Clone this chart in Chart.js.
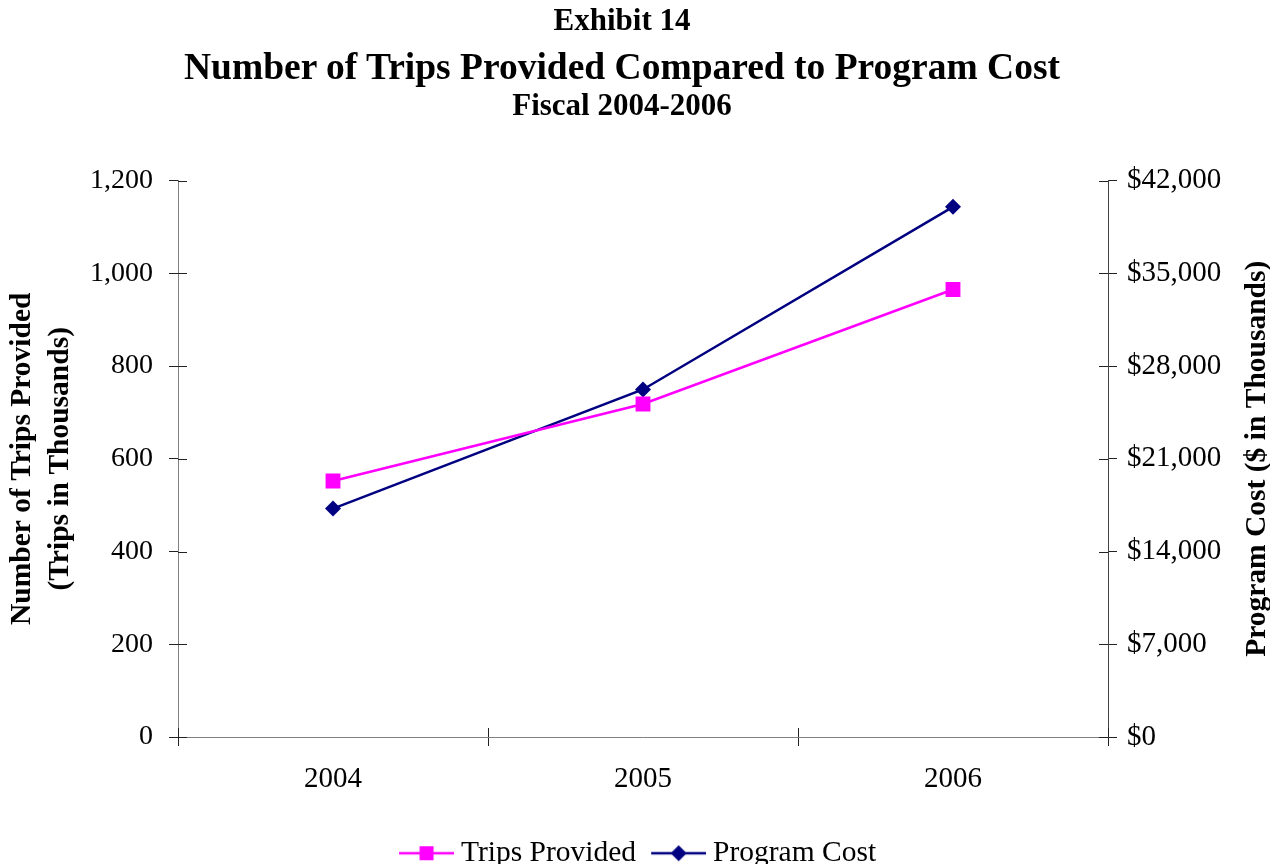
<!DOCTYPE html>
<html>
<head>
<meta charset="utf-8">
<script src="https://cdn.jsdelivr.net/npm/chart.js@4/dist/chart.umd.min.js"></script>
<style>
  html, body { margin: 0; padding: 0; background: #fff; }
  #wrap { position: relative; width: 1270px; height: 864px; overflow: hidden; }
  #chart { position: absolute; left: 0; top: 0; }
  .ttl { position: absolute; left: 0; width: 1244px; text-align: center;
         font-family: "Liberation Serif", "Times New Roman", serif; font-weight: bold; color: #000; white-space: nowrap; }
  #t1 { top: 3px; font-size: 31px; line-height: 34px; }
  #t2 { top: 46px; font-size: 37.5px; line-height: 42px; }
  #t3 { top: 88px; font-size: 31px; line-height: 34px; }
</style>
</head>
<body>
<div id="wrap">
  <canvas id="chart" width="1270" height="864"></canvas>
  <div class="ttl" id="t1">Exhibit 14</div>
  <div class="ttl" id="t2">Number of Trips Provided Compared to Program Cost</div>
  <div class="ttl" id="t3">Fiscal 2004-2006</div>
</div>
<script>
// Fiscal years on the category axis
const years = ['2004', '2005', '2006'];
// Trips provided, in thousands
const tripsProvided = [552, 718, 965];
// Program cost, in thousands of dollars
const programCost = [17240, 26230, 40010];
// Axis ranges / steps
const tripsAxis = { min: 0, max: 1200, step: 200 };
const costAxis = { min: 0, max: 42000, step: 7000 };
const costTitle = 'Program Cost ($ in Thousands)';

const SERIF = '"Liberation Serif", "Times New Roman", serif';
const MAGENTA = '#FF00FF';
const NAVY = '#000080';
const TICK_FONT = { family: SERIF, size: 29 };
const TITLE_SIZE = 29.5;

// Legend swatch: a short line with the series marker in the middle.
// The image is wider than the line so that the line sits close to the label.
function legendSwatch(color, shape) {
  const c = document.createElement('canvas');
  c.width = 68; c.height = 18;
  const g = c.getContext('2d');
  const x0 = 13, x1 = 68, mid = (x0 + x1) / 2;
  g.strokeStyle = color; g.lineWidth = 2.5;
  g.beginPath(); g.moveTo(x0, 9); g.lineTo(x1, 9); g.stroke();
  g.fillStyle = color;
  if (shape === 'square') {
    g.fillRect(mid - 7, 9 - 7, 14, 14);
  } else {
    g.beginPath(); g.moveTo(mid, 1); g.lineTo(mid + 8, 9); g.lineTo(mid, 17); g.lineTo(mid - 8, 9); g.closePath(); g.fill();
  }
  return c;
}
const swatches = [legendSwatch(MAGENTA, 'square'), legendSwatch(NAVY, 'diamond')];

// Tick marks that cross the axis lines (inner half)
const innerTicks = {
  id: 'innerTicks',
  afterDraw(chart) {
    const { ctx, chartArea, scales } = chart;
    const len = 9;
    ctx.save();
    ctx.lineWidth = 1;
    ctx.strokeStyle = '#222';
    ctx.beginPath();
    const yl = scales.y;
    yl.ticks.forEach((t, i) => {
      const p = Math.round(yl.getPixelForTick(i)) + 0.5;
      ctx.moveTo(chartArea.left, p); ctx.lineTo(chartArea.left + len, p);
    });
    const yr = scales.y1;
    yr.ticks.forEach((t, i) => {
      const p = Math.round(yr.getPixelForTick(i)) + 0.5;
      ctx.moveTo(chartArea.right, p); ctx.lineTo(chartArea.right - len, p);
    });
    const xs = scales.x;
    const n = xs.ticks.length;
    const bounds = [chartArea.left];
    for (let i = 0; i < n - 1; i++) bounds.push((xs.getPixelForTick(i) + xs.getPixelForTick(i + 1)) / 2);
    bounds.push(chartArea.right);
    bounds.forEach(b => {
      const p = Math.round(b) + 0.5;
      ctx.moveTo(p, chartArea.bottom); ctx.lineTo(p, chartArea.bottom - len);
    });
    ctx.stroke();
    ctx.restore();
  }
};

// Right axis title, reading bottom-to-top like the left one
const rightAxisTitle = {
  id: 'rightAxisTitle',
  afterDraw(chart) {
    const { ctx, chartArea } = chart;
    ctx.save();
    ctx.translate(1257, (chartArea.top + chartArea.bottom) / 2);
    ctx.rotate(-Math.PI / 2);
    ctx.font = 'bold ' + TITLE_SIZE + 'px ' + SERIF;
    ctx.fillStyle = '#000';
    ctx.textAlign = 'center';
    ctx.textBaseline = 'middle';
    ctx.fillText(costTitle, 0, 0);
    ctx.restore();
  }
};

new Chart(document.getElementById('chart'), {
  type: 'line',
  data: {
    labels: years,
    datasets: [
      {
        label: 'Trips Provided',
        data: tripsProvided,
        yAxisID: 'y',
        borderColor: MAGENTA,
        backgroundColor: MAGENTA,
        borderWidth: 2.5,
        pointStyle: 'rect',
        pointRadius: 10.5,
        pointHoverRadius: 10.5,
        pointBorderWidth: 0,
        tension: 0
      },
      {
        label: 'Program Cost',
        data: programCost,
        yAxisID: 'y1',
        borderColor: NAVY,
        backgroundColor: NAVY,
        borderWidth: 2.5,
        pointStyle: 'rectRot',
        pointRadius: 8,
        pointHoverRadius: 8,
        pointBorderWidth: 0,
        tension: 0
      }
    ]
  },
  options: {
    responsive: false,
    animation: false,
    events: [],
    layout: { padding: { top: 180.5, left: 0, right: 0, bottom: -14 } },
    plugins: {
      title: { display: false },
      tooltip: { enabled: false },
      legend: {
        position: 'bottom',
        labels: {
          font: { family: SERIF, size: TITLE_SIZE },
          color: '#000',
          usePointStyle: true,
          pointStyleWidth: 52.25,
          boxHeight: 18,
          padding: 10,
          generateLabels(chart) {
            const items = Chart.defaults.plugins.legend.labels.generateLabels(chart);
            items.forEach((it, i) => { it.pointStyle = swatches[i]; });
            return items;
          }
        }
      }
    },
    scales: {
      x: {
        type: 'category',
        offset: true,
        grid: { offset: true, drawOnChartArea: false, drawTicks: true, tickLength: 9, color: '#222' },
        border: { display: true, color: '#808080', width: 1 },
        ticks: { font: TICK_FONT, color: '#000', padding: 16 },
        afterFit(s) { s.height = 91.5; }
      },
      y: {
        position: 'left',
        min: tripsAxis.min, max: tripsAxis.max,
        grid: { drawOnChartArea: false, drawTicks: true, tickLength: 9, color: '#222' },
        border: { display: true, color: '#808080', width: 1 },
        ticks: {
          stepSize: tripsAxis.step,
          font: { family: SERIF, size: 28 }, color: '#000', padding: 16,
          callback: v => v.toLocaleString('en-US')
        },
        title: {
          display: true,
          text: ['Number of Trips Provided', '(Trips in Thousands)'],
          font: { family: SERIF, size: TITLE_SIZE, weight: 'bold', lineHeight: 1.3 },
          color: '#000',
          padding: { top: 3, bottom: 0 }
        },
        afterFit(s) { s.width = 178; }
      },
      y1: {
        position: 'right',
        min: costAxis.min, max: costAxis.max,
        grid: { drawOnChartArea: false, drawTicks: true, tickLength: 9, color: '#222' },
        border: { display: true, color: '#444', width: 1 },
        ticks: {
          stepSize: costAxis.step,
          font: TICK_FONT, color: '#000', padding: 10,
          callback: v => '$' + v.toLocaleString('en-US')
        },
        title: { display: false },
        afterFit(s) { s.width = 162; }
      }
    }
  },
  plugins: [innerTicks, rightAxisTitle]
});
</script>
</body>
</html>
